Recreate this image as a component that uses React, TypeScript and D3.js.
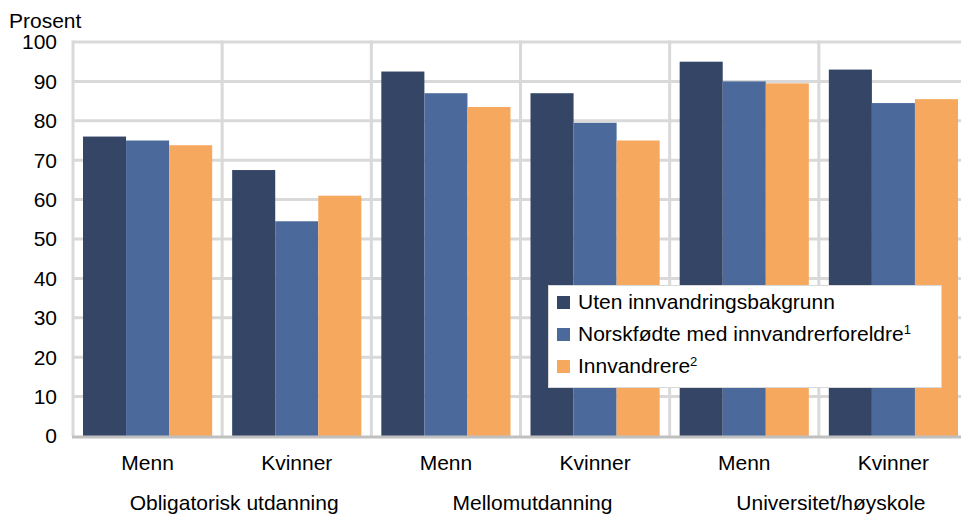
import React, { useEffect, useRef } from 'react';
import * as d3 from 'd3';

// categories and groups
const groups = ['Obligatorisk utdanning', 'Mellomutdanning', 'Universitet/høyskole'];
const genders = ['Menn', 'Kvinner'];
const series = ['Uten innvandringsbakgrunn', 'Norskfødte med innvandrerforeldre', 'Innvandrere'];
const superscripts = ['', '1', '2'];
const colors = ['#344566', '#4b6a9b', '#f6a95e'];

// values per series, in order Oblig M, Oblig K, Mellom M, Mellom K, Univ M, Univ K
const utenValues = [76, 67.5, 92.5, 87, 95, 93];
const norskfodteValues = [75, 54.5, 87, 79.5, 90, 84.5];
const innvandrereValues = [73.8, 61, 83.5, 75, 89.5, 85.5];
const yTicks = [0, 10, 20, 30, 40, 50, 60, 70, 80, 90, 100];

const W = 961;
const H = 514;
const FONT = 'Liberation Sans, Arial, sans-serif';
const FS = 21;

const App = () => {
  const svgRef = useRef(null);

  useEffect(() => {
    const svg = d3.select(svgRef.current);
    svg.selectAll('*').remove();

    const cats = groups.flatMap((g) => genders.map((s) => `${g}|${s}`));
    const allValues = [utenValues, norskfodteValues, innvandrereValues];

    const x = d3.scaleBand().domain(cats).range([73, 968]).padding(0);
    const bw = x.bandwidth();
    const x1 = d3.scaleBand().domain(series).range([10, bw - 10]).padding(0);
    const y = d3.scaleLinear().domain([0, 100]).range([436, 42]);

    // horizontal grid
    svg.append('g')
      .selectAll('line')
      .data(yTicks.filter((t) => t > 0))
      .enter()
      .append('line')
      .attr('x1', 73)
      .attr('x2', W)
      .attr('y1', (d) => y(d))
      .attr('y2', (d) => y(d))
      .attr('stroke', '#d9d9d9')
      .attr('stroke-width', 3);

    // vertical grid at category boundaries
    svg.append('g')
      .selectAll('line')
      .data(cats)
      .enter()
      .append('line')
      .attr('x1', (d) => x(d))
      .attr('x2', (d) => x(d))
      .attr('y1', y(100) - 1.5)
      .attr('y2', y(0))
      .attr('stroke', '#d9d9d9')
      .attr('stroke-width', 3);

    // bars
    series.forEach((s, si) => {
      svg.append('g')
        .selectAll('rect')
        .data(allValues[si])
        .enter()
        .append('rect')
        .attr('x', (d, i) => x(cats[i]) + x1(s))
        .attr('width', x1.bandwidth())
        .attr('y', (d) => y(d))
        .attr('height', (d) => y(0) - y(d))
        .attr('fill', colors[si]);
    });

    // baseline
    svg.append('line')
      .attr('x1', 72)
      .attr('x2', W)
      .attr('y1', y(0) + 1)
      .attr('y2', y(0) + 1)
      .attr('stroke', '#c0c0c0')
      .attr('stroke-width', 3);

    // y tick labels
    svg.append('g')
      .selectAll('text')
      .data(yTicks)
      .enter()
      .append('text')
      .attr('x', 57)
      .attr('y', (d) => y(d))
      .attr('dy', '0.35em')
      .attr('text-anchor', 'end')
      .attr('font-family', FONT)
      .attr('font-size', FS)
      .attr('fill', '#000')
      .text((d) => d);

    svg.append('text')
      .attr('x', 9)
      .attr('y', 28)
      .attr('font-family', FONT)
      .attr('font-size', FS)
      .text('Prosent');

    // x labels
    svg.append('g')
      .selectAll('text')
      .data(cats)
      .enter()
      .append('text')
      .attr('x', (d) => x(d) + bw / 2)
      .attr('y', 470)
      .attr('text-anchor', 'middle')
      .attr('font-family', FONT)
      .attr('font-size', FS)
      .text((d) => d.split('|')[1]);

    svg.append('g')
      .selectAll('text')
      .data(groups)
      .enter()
      .append('text')
      .attr('x', (d) => x(`${d}|Menn`) + bw + 12)
      .attr('y', 510)
      .attr('text-anchor', 'middle')
      .attr('font-family', FONT)
      .attr('font-size', FS)
      .text((d) => d);

    // legend
    const lg = svg.append('g');
    lg.append('rect')
      .attr('x', 548.5)
      .attr('y', 285.5)
      .attr('width', 393)
      .attr('height', 102)
      .attr('fill', '#fff')
      .attr('stroke', '#d9d9d9')
      .attr('stroke-width', 1);

    series.forEach((s, i) => {
      const cy = 302 + i * 32;
      lg.append('rect')
        .attr('x', 557)
        .attr('y', cy - 6)
        .attr('width', 13)
        .attr('height', 13)
        .attr('fill', colors[i]);
      const t = lg.append('text')
        .attr('x', 578)
        .attr('y', cy)
        .attr('dy', '0.35em')
        .attr('font-family', FONT)
        .attr('font-size', FS);
      t.append('tspan').text(s);
      if (superscripts[i]) {
        t.append('tspan')
          .attr('font-size', 13)
          .attr('dy', '-0.6em')
          .text(superscripts[i]);
      }
    });
  }, []);

  return (
    <svg
      ref={svgRef}
      width={W}
      height={H}
      style={{ position: 'absolute', left: 0, top: 0, background: '#fff' }}
    />
  );
};

export default App;
